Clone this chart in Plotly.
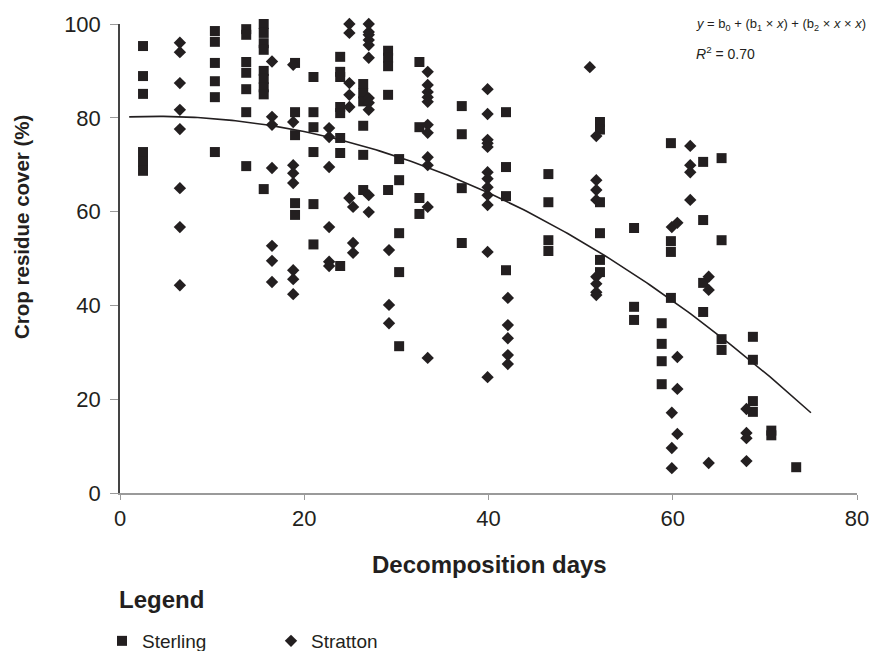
import numpy as np
import plotly.graph_objects as go

# Sterling residue cover (%) by decomposition day
sterling_days = [
    2.5, 2.5, 2.5, 2.5, 2.5, 2.5,
    10.3, 10.3, 10.3, 10.3, 10.3, 10.3,
    13.7, 13.7, 13.7, 13.7, 13.7, 13.7, 13.7,
    15.6, 15.6, 15.6, 15.6, 15.6, 15.6, 15.6, 15.6, 15.6,
    19.0, 19.0, 19.0, 19.0, 19.0,
    21.0, 21.0, 21.0, 21.0, 21.0, 21.0,
    23.9, 23.9, 23.9, 23.9, 23.9, 23.9, 23.9, 23.9,
    26.4, 26.4, 26.4, 26.4, 26.4, 26.4,
    29.1, 29.1, 29.1, 29.1, 29.1,
    30.3, 30.3, 30.3, 30.3, 30.3,
    32.5, 32.5, 32.5, 32.5,
    37.1, 37.1, 37.1, 37.1,
    41.9, 41.9, 41.9, 41.9,
    46.5, 46.5, 46.5, 46.5,
    52.1, 52.1, 52.1, 52.1, 52.1, 52.1,
    55.8, 55.8, 55.8,
    58.8, 58.8, 58.8, 58.8,
    59.8, 59.8, 59.8, 59.8,
    63.3, 63.3, 63.3, 63.3,
    65.3, 65.3, 65.3, 65.3,
    68.7, 68.7, 68.7, 68.7,
    70.7, 70.7,
    73.4,
]
sterling_cover = [
    95.3, 88.9, 85.1, 72.7, 70.6, 68.7,
    98.5, 96.2, 91.7, 87.8, 84.4, 72.7,
    98.9, 97.7, 91.9, 89.6, 86.1, 81.2, 69.7,
    100.0, 98.1, 95.9, 94.5, 90.0, 88.3, 86.5, 85.0, 64.8,
    91.7, 81.2, 76.3, 61.8, 59.3,
    88.7, 81.2, 78.0, 72.7, 61.6, 53.0,
    93.0, 89.8, 88.7, 82.3, 81.0, 75.7, 72.5, 48.4,
    87.2, 85.2, 83.5, 78.3, 72.1, 64.6,
    94.3, 92.8, 91.0, 84.9, 64.6,
    71.2, 66.7, 55.4, 47.1, 31.3,
    91.9, 78.0, 62.9, 59.5,
    82.5, 76.5, 65.0, 53.3,
    81.2, 69.5, 63.3, 47.5,
    68.0, 62.0, 53.9, 51.6,
    79.1, 77.5, 62.0, 55.4, 49.7, 47.1,
    56.5, 39.7, 36.9,
    36.2, 31.8, 28.1, 23.2,
    74.6, 53.7, 51.4, 41.6,
    70.6, 58.2, 44.8, 38.6,
    71.4, 53.9, 32.8, 30.5,
    33.3, 28.4, 19.6, 17.3,
    13.3, 12.3,
    5.5,
]

# Stratton residue cover (%) by decomposition day
stratton_days = [
    6.5, 6.5, 6.5, 6.5, 6.5, 6.5, 6.5, 6.5,
    16.5, 16.5, 16.5, 16.5, 16.5, 16.5, 16.5,
    18.8, 18.8, 18.8, 18.8, 18.8, 18.8, 18.8, 18.8,
    22.7, 22.7, 22.7, 22.7, 22.7, 22.7,
    24.9, 24.9, 24.9, 24.9, 24.9, 24.9, 25.3, 25.3, 25.3,
    27.0, 27.0, 27.0, 27.0, 27.0, 27.0, 27.0, 27.0, 27.0, 27.0, 27.0,
    29.2, 29.2, 29.2,
    33.4, 33.4, 33.4, 33.4, 33.4, 33.4, 33.4, 33.4, 33.4, 33.4, 33.4,
    39.9, 39.9, 39.9, 39.9, 39.9, 39.9, 39.9, 39.9, 39.9, 39.9, 39.9, 39.9,
    42.1, 42.1, 42.1, 42.1, 42.1,
    51.0,
    51.7, 51.7, 51.7, 51.7, 51.7, 51.7, 51.7, 51.7,
    59.9, 59.9, 59.9, 59.9,
    60.5, 60.5, 60.5, 60.5,
    61.9, 61.9, 61.9, 61.9,
    63.9, 63.9, 63.9,
    68.0, 68.0, 68.0, 68.0,
]
stratton_cover = [
    96.0, 94.0, 87.4, 81.7, 77.6, 65.0, 56.7, 44.3,
    92.0, 80.2, 78.5, 69.3, 52.7, 49.5, 45.0,
    91.3, 79.1, 69.9, 68.2, 66.1, 47.5, 45.6, 42.4,
    77.8, 75.9, 69.5, 56.7, 49.3, 48.4,
    100.0, 98.1, 87.4, 84.9, 82.3, 62.9, 61.0, 53.3, 51.2,
    100.0, 98.3, 97.7, 96.6, 95.5, 92.8, 84.2, 83.2, 81.7, 63.5, 59.9,
    51.8, 40.1, 36.2,
    89.8, 87.0, 85.5, 84.4, 83.4, 78.5, 76.8, 71.6, 69.9, 61.0, 28.8,
    86.1, 80.8, 75.3, 74.6, 73.8, 68.4, 67.0, 65.2, 63.5, 61.4, 51.4, 24.7,
    41.6, 35.8, 33.0, 29.4, 27.5,
    90.8,
    76.1, 66.7, 64.6, 62.5, 46.1, 44.6, 42.8, 42.2,
    56.7, 17.1, 9.6, 5.3,
    57.6, 29.0, 22.2, 12.6,
    74.0, 69.9, 68.4, 62.5,
    46.1, 43.3, 6.4,
    17.9, 12.8, 11.7, 6.8,
]

# Quadratic fit y = b0 + b1*x + b2*x*x and its span in days
fit_b0, fit_b1, fit_b2 = 80.12, 0.0969, -0.012494
fit_start, fit_end = 1.0, 75.0
fit_r2 = "0.70"

x_ticks = [0, 20, 40, 60, 80]
y_ticks = [0, 20, 40, 60, 80, 100]

INK = "#231f20"
FONT = "Liberation Sans, Arial, sans-serif"

# plot-area geometry in pixels, used to place the free-standing labels
PLOT_L, PLOT_R, PLOT_T, PLOT_B = 120, 857, 24, 493


def px_x(px):
    return (px - PLOT_L) / (PLOT_R - PLOT_L)


def px_y(py):
    return (PLOT_B - py) / (PLOT_B - PLOT_T)


fig = go.Figure()
fig.add_trace(go.Scatter(
    x=sterling_days, y=sterling_cover, mode="markers", name="Sterling",
    marker=dict(symbol="square", size=10, color=INK, line=dict(width=0)),
    cliponaxis=False,
))
fig.add_trace(go.Scatter(
    x=stratton_days, y=stratton_cover, mode="markers", name="Stratton",
    marker=dict(symbol="diamond", size=9.5, color=INK, line=dict(width=0)),
    cliponaxis=False,
))

fx = np.linspace(fit_start, fit_end, 200)
fy = fit_b0 + fit_b1 * fx + fit_b2 * fx * fx
fig.add_trace(go.Scatter(
    x=fx, y=fy, mode="lines", showlegend=False, hoverinfo="skip",
    line=dict(color=INK, width=1.6),
))

fig.update_layout(
    width=869, height=651,
    margin=dict(l=PLOT_L, r=869 - PLOT_R, t=PLOT_T, b=651 - PLOT_B,
                autoexpand=False),
    paper_bgcolor="white", plot_bgcolor="white",
    font=dict(family=FONT, color=INK),
    showlegend=True,
    legend=dict(
        orientation="h", x=px_x(102), xanchor="left",
        y=px_y(641), yanchor="middle",
        font=dict(size=19, family=FONT, color=INK),
        entrywidth=124, entrywidthmode="pixels",
        bgcolor="rgba(0,0,0,0)", borderwidth=0,
    ),
    xaxis=dict(
        range=[0, 80], tickvals=x_ticks, showgrid=False, zeroline=False,
        showline=True, linecolor="#9a9a9a", linewidth=2,
        ticks="outside", ticklen=5, tickcolor="#9a9a9a", tickwidth=1,
        ticklabeloverflow="allow",
        tickfont=dict(size=22, family=FONT, color=INK),
    ),
    yaxis=dict(
        range=[0, 100], tickvals=y_ticks, showgrid=False, zeroline=False,
        showline=True, linecolor="#444444", linewidth=1.5,
        ticks="outside", ticklen=8, tickcolor="#9a9a9a", tickwidth=1,
        ticklabelstandoff=5, ticklabeloverflow="allow",
        tickfont=dict(size=22, family=FONT, color=INK),
    ),
)

annotations = [
    dict(text="<b>Crop residue cover (%)</b>", x=px_x(21), y=px_y(227),
         xref="paper", yref="paper", textangle=-90, showarrow=False,
         xanchor="center", yanchor="middle",
         font=dict(size=20.5, family=FONT, color=INK)),
    dict(text="<b>Decomposition days</b>", x=px_x(489), y=px_y(564),
         xref="paper", yref="paper", showarrow=False,
         xanchor="center", yanchor="middle",
         font=dict(size=24, family=FONT, color=INK)),
    dict(text="<b>Legend</b>", x=px_x(117), y=px_y(599),
         xref="paper", yref="paper", showarrow=False,
         xanchor="left", yanchor="middle",
         font=dict(size=24, family=FONT, color=INK)),
    dict(text="<i>y</i> = b<sub>0</sub> + (b<sub>1</sub> × <i>x</i>) + "
              "(b<sub>2</sub> × <i>x</i> × <i>x</i>)",
         x=px_x(694), y=px_y(24),
         xref="paper", yref="paper", showarrow=False,
         xanchor="left", yanchor="middle",
         font=dict(size=13, family=FONT, color=INK)),
    dict(text="<i>R</i><sup>2</sup> = " + fit_r2,
         x=px_x(694), y=px_y(53),
         xref="paper", yref="paper", showarrow=False,
         xanchor="left", yanchor="middle",
         font=dict(size=14, family=FONT, color=INK)),
]
fig.update_layout(annotations=annotations)

fig.write_html("out.html")
